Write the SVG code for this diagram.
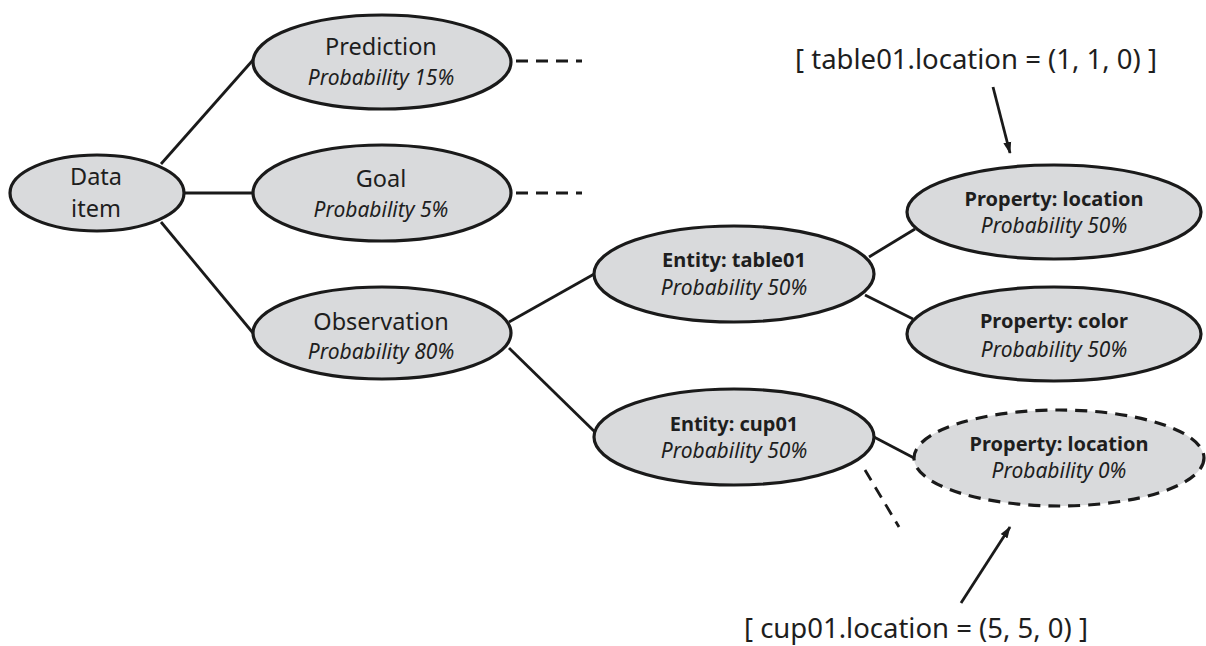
<svg xmlns="http://www.w3.org/2000/svg" width="1206" height="646" viewBox="0 0 1206 646">
<style>
.n{fill:#d9dadc;stroke:#1a1a1a;stroke-width:3.2}
.d{stroke-dasharray:12 8}
.c{stroke:#1a1a1a;stroke-width:2.8;fill:none}
.t{font-family:"Noto Sans","Open Sans",sans-serif;fill:#1e1e1e;text-anchor:middle}
.r{font-size:23.5px}
.b{font-size:20px;font-weight:bold}
.i{font-size:21px;font-style:italic}
.l{font-size:27.5px}
</style>
<defs>
<marker id="ah" markerWidth="12" markerHeight="10" refX="11" refY="5" orient="auto" markerUnits="userSpaceOnUse">
<path d="M0,1 L12,5 L0,9 Z" fill="#1a1a1a"/>
</marker>
</defs>
<rect width="1206" height="646" fill="#fff"/>
<g id="connectors">
<line class="c" x1="161" y1="164" x2="253" y2="60"/>
<line class="c" x1="185" y1="193" x2="252" y2="193"/>
<line class="c" x1="161" y1="222" x2="253" y2="333"/>
<line class="c d" x1="516" y1="61" x2="582" y2="61"/>
<line class="c d" x1="516" y1="193" x2="582" y2="193"/>
<line class="c" x1="509" y1="322" x2="596" y2="273"/>
<line class="c" x1="509" y1="348" x2="596" y2="433"/>
<line class="c" x1="869" y1="257" x2="915" y2="229"/>
<line class="c" x1="865" y1="295" x2="913" y2="319"/>
<line class="c" x1="874" y1="437" x2="914" y2="458"/>
<line class="c d" x1="865" y1="470" x2="899" y2="527"/>
<line class="c" x1="993" y1="87" x2="1010" y2="153" marker-end="url(#ah)"/>
<line class="c" x1="961" y1="603" x2="1010" y2="527" marker-end="url(#ah)"/>
</g>
<g id="data-item">
<ellipse class="n" cx="97" cy="193" rx="87" ry="38"/>
<text class="t r" x="96" y="185">Data</text>
<text class="t r" x="96" y="217">item</text>
</g>
<g id="prediction">
<ellipse class="n" cx="382" cy="62" rx="129" ry="47"/>
<text class="t r" x="381" y="55">Prediction</text>
<text class="t i" x="381" y="85">Probability 15%</text>
</g>
<g id="goal">
<ellipse class="n" cx="382" cy="193" rx="129" ry="48"/>
<text class="t r" x="381" y="187">Goal</text>
<text class="t i" x="381" y="217">Probability 5%</text>
</g>
<g id="observation">
<ellipse class="n" cx="382" cy="333" rx="129" ry="46"/>
<text class="t r" x="381" y="330">Observation</text>
<text class="t i" x="381" y="359">Probability 80%</text>
</g>
<g id="entity-table01">
<ellipse class="n" cx="734" cy="274" rx="140" ry="48"/>
<text class="t b" x="734" y="267">Entity: table01</text>
<text class="t i" x="734" y="295">Probability 50%</text>
</g>
<g id="entity-cup01">
<ellipse class="n" cx="734" cy="437" rx="140" ry="48"/>
<text class="t b" x="734" y="431">Entity: cup01</text>
<text class="t i" x="734" y="458">Probability 50%</text>
</g>
<g id="table01-location">
<ellipse class="n" cx="1054" cy="212" rx="147" ry="47"/>
<text class="t b" x="1054" y="206">Property: location</text>
<text class="t i" x="1054" y="233">Probability 50%</text>
</g>
<g id="table01-color">
<ellipse class="n" cx="1054" cy="334" rx="147" ry="47"/>
<text class="t b" x="1054" y="328">Property: color</text>
<text class="t i" x="1054" y="357">Probability 50%</text>
</g>
<g id="cup01-location">
<ellipse class="n d" cx="1059" cy="458" rx="145" ry="48"/>
<text class="t b" x="1059" y="451">Property: location</text>
<text class="t i" x="1059" y="478">Probability 0%</text>
</g>
<g id="label-table01">
<text class="t l" x="976" y="69">[ table01.location = (1, 1, 0) ]</text>
</g>
<g id="label-cup01">
<text class="t l" x="916" y="638">[ cup01.location = (5, 5, 0) ]</text>
</g>
</svg>
